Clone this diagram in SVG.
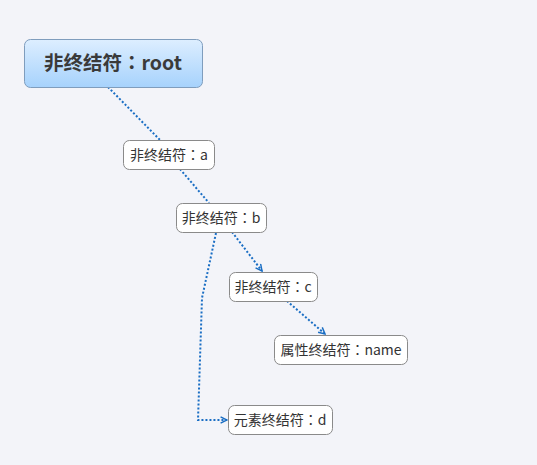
<svg xmlns="http://www.w3.org/2000/svg" width="537" height="465" viewBox="0 0 537 465">
<defs>
<linearGradient id="rootg" x1="0" y1="0" x2="0" y2="1">
<stop offset="0" stop-color="#ddeeff"/>
<stop offset="1" stop-color="#a6d2fc"/>
</linearGradient>
<marker id="arr" viewBox="0 0 10 10" refX="9" refY="5" markerWidth="8" markerHeight="8" orient="auto" markerUnits="userSpaceOnUse">
<path d="M1,1 L9,5 L1,9" fill="none" stroke="#1a6ec4" stroke-width="1.8"/>
</marker>
</defs>
<style>
.n{fill:#ffffff;stroke:#8a8a8a;stroke-width:1}
.t{font-family:"Noto Sans CJK TC","Noto Sans CJK SC","Liberation Sans",sans-serif;font-size:14px;fill:#333333;text-anchor:middle;dominant-baseline:central}
.c{fill:none;stroke:#1a6ec4;stroke-width:2;stroke-dasharray:2 2}
</style>
<rect width="537" height="465" fill="#f3f4f9"/>
<g id="connectors">
<path class="c" d="M108,87 L160,140"/>
<path class="c" d="M180,169 L209,203"/>
<path class="c" d="M232,232 L262,271" marker-end="url(#arr)"/>
<path class="c" d="M287,301 L325,334" marker-end="url(#arr)"/>
<path class="c" d="M216,233 L202,298 L198,420 L227,420" marker-end="url(#arr)"/>
</g>
<g id="root">
<rect x="24.5" y="39.5" width="178" height="48" rx="6" fill="url(#rootg)" stroke="#7f9dbd"/>
<text class="t" x="113" y="61.5" style="font-size:19.5px;font-weight:bold;fill:#3a3a3a">非终结符：root</text>
</g>
<g id="a">
<rect class="n" x="123.5" y="140.5" width="91" height="29" rx="6"/>
<text class="t" x="169" y="153.5">非终结符：a</text>
</g>
<g id="b">
<rect class="n" x="176.5" y="203.5" width="90" height="29" rx="6"/>
<text class="t" x="221" y="216.5">非终结符：b</text>
</g>
<g id="c">
<rect class="n" x="229.5" y="272.5" width="88" height="29" rx="6"/>
<text class="t" x="273" y="285.5">非终结符：c</text>
</g>
<g id="name">
<rect class="n" x="274.5" y="335.5" width="133" height="29" rx="6"/>
<text class="t" x="341" y="348.5">属性终结符：name</text>
</g>
<g id="d">
<rect class="n" x="228.5" y="405.5" width="104" height="29" rx="6"/>
<text class="t" x="280" y="418.5">元素终结符：d</text>
</g>
</svg>
